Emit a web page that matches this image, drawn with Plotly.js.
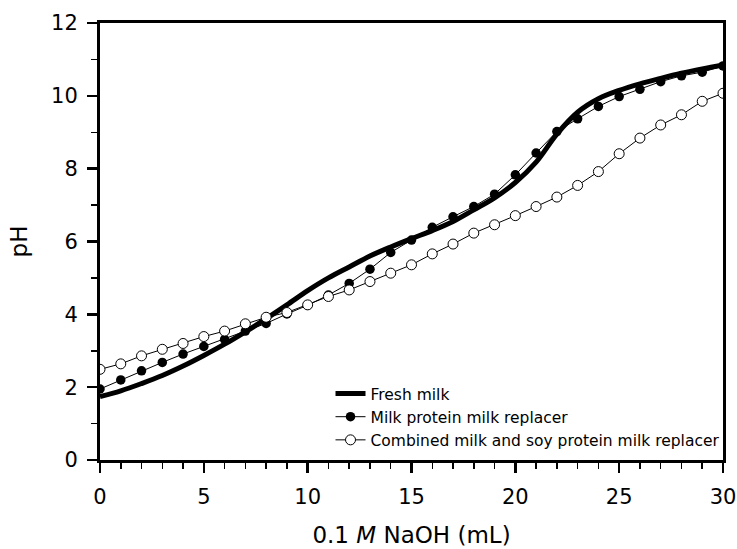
<!DOCTYPE html>
<html>
<head>
<meta charset="utf-8">
<script src="https://cdn.plot.ly/plotly-3.0.1.min.js"></script>
<style>html,body{margin:0;padding:0;background:#fff;}#chart{width:737px;height:549px;}</style>
</head>
<body>
<div id="chart"></div>
<script>
const naoh = [0,1,2,3,4,5,6,7,8,9,10,11,12,13,14,15,16,17,18,19,20,21,22,23,24,25,26,27,28,29,30];
const freshMilk = [1.74,1.9,2.1,2.32,2.58,2.87,3.18,3.52,3.88,4.26,4.65,5.0,5.3,5.6,5.85,6.08,6.3,6.55,6.87,7.2,7.62,8.18,8.95,9.55,9.92,10.15,10.33,10.48,10.62,10.74,10.85];
const milkProtein = [1.95,2.2,2.45,2.68,2.91,3.12,3.31,3.54,3.75,4.01,4.25,4.53,4.85,5.24,5.7,6.04,6.39,6.68,6.96,7.3,7.83,8.43,9.02,9.37,9.71,9.98,10.18,10.39,10.55,10.65,10.82];
const combined = [2.49,2.64,2.86,3.04,3.2,3.39,3.54,3.74,3.92,4.05,4.26,4.49,4.67,4.9,5.13,5.36,5.66,5.93,6.23,6.46,6.71,6.96,7.22,7.54,7.92,8.41,8.84,9.2,9.48,9.85,10.07];
const seriesNames = ["Fresh milk","Milk protein milk replacer","Combined milk and soy protein milk replacer"];

const font = "DejaVu Sans, Liberation Sans, Arial, sans-serif";
const traces = [
  {x: naoh, y: freshMilk, name: seriesNames[0], mode: "lines",
   line: {color: "#000", width: 5, shape: "spline", smoothing: 1}},
  {x: naoh, y: milkProtein, name: seriesNames[1], mode: "lines+markers",
   line: {color: "#000", width: 1}, marker: {color: "#000", size: 9.5, symbol: "circle"}},
  {x: naoh, y: combined, name: seriesNames[2], mode: "lines+markers",
   line: {color: "#000", width: 1}, marker: {color: "#fff", size: 10, symbol: "circle", line: {color: "#000", width: 1}}}
];
const layout = {
  width: 737, height: 549,
  margin: {l: 100, r: 14, t: 23, b: 89},
  paper_bgcolor: "#fff", plot_bgcolor: "#fff",
  font: {family: font, color: "#000"},
  showlegend: true,
  legend: {x: 0.37, y: 0.19, xanchor: "left", yanchor: "top", bgcolor: "rgba(0,0,0,0)",
           font: {family: font, size: 15.5, color: "#000"}, tracegroupgap: 0},
  xaxis: {range: [0, 30], showgrid: false, zeroline: false, showline: true, linewidth: 3, linecolor: "#000", mirror: true,
          ticks: "outside", ticklen: 10, tickwidth: 2.5, tickcolor: "#000", dtick: 5, tick0: 0,
          minor: {ticks: "outside", ticklen: 6, tickwidth: 1.5, tickcolor: "#000", dtick: 1, showgrid: false},
          tickfont: {size: 21, family: font}, ticklabelstandoff: 6,
          title: {text: "0.1 <i>M</i> NaOH (mL)", font: {size: 23, family: font}, standoff: 19}},
  yaxis: {range: [0, 12], showgrid: false, zeroline: false, showline: true, linewidth: 3, linecolor: "#000", mirror: true,
          ticks: "outside", ticklen: 10, tickwidth: 2.5, tickcolor: "#000", dtick: 2, tick0: 0,
          minor: {ticks: "outside", ticklen: 6, tickwidth: 1.5, tickcolor: "#000", dtick: 1, showgrid: false},
          tickfont: {size: 21, family: font}, ticklabelstandoff: 5,
          title: {text: "pH", font: {size: 23, family: font}, standoff: 18}}
};
Plotly.newPlot("chart", traces, layout, {staticPlot: true, displayModeBar: false});
</script>
</body>
</html>
